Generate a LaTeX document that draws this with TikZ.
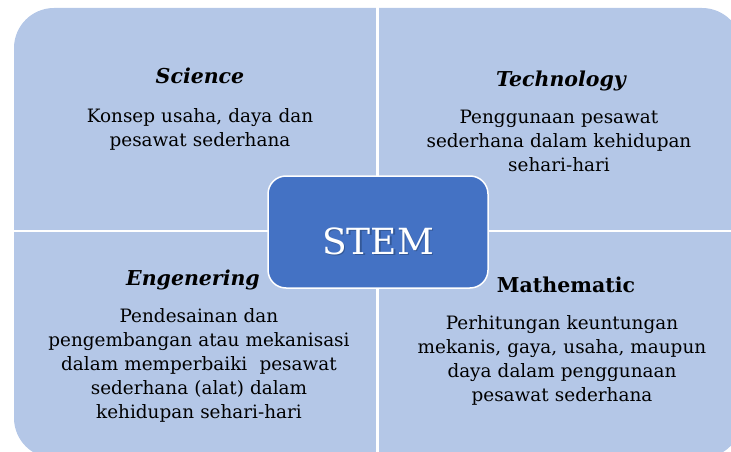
\documentclass[tikz,border=0pt]{standalone}
\usepackage{fontspec}
\setmainfont{DejaVu Serif}
\definecolor{quadblue}{HTML}{B4C7E7}
\definecolor{stemblue}{HTML}{4472C4}

\begin{document}
\begin{tikzpicture}[x=1pt,y=-1pt,
  head/.style={anchor=base,inner sep=0,font=\fontsize{20.5}{24}\selectfont\bfseries\itshape},
  body/.style={anchor=base,inner sep=0,text width=340pt,align=center,font=\fontsize{18.4}{24.2}\selectfont},
  stembox/.style={draw=white,line width=1.5pt,fill=stemblue,rounded corners=18pt,
    minimum width=220pt,minimum height=112pt,inner sep=0}]

  \useasboundingbox (0,0) rectangle (731,452);
  \clip (0,0) rectangle (731,452);

  % the four quarters, split by thin white gaps
  \fill [quadblue,rounded corners=40pt] (14,8) rectangle (742,458);
  \draw [white,line width=2.4pt] (377.5,0) -- (377.5,460);
  \draw [white,line width=2.4pt] (10,231) -- (745,231);

  \node [head] (scihead) at (200,84) {Science};
  \node [body] (scitext) at (200,122) {Konsep usaha, daya dan\\pesawat sederhana};

  \node [head] (techhead) at (561,86) {Technology};
  \node [body] (techtext) at (559,123) {Penggunaan pesawat\\sederhana dalam kehidupan\\sehari-hari};

  \node [head] (enghead) at (193,285) {Engenering};
  \node [body] (engtext) at (199,322) {Pendesainan dan\\pengembangan atau mekanisasi\\dalam memperbaiki~ pesawat\\sederhana (alat) dalam\\kehidupan sehari-hari};

  \node [head,font=\fontsize{20.5}{24}\selectfont\bfseries] (mathhead) at (566,292) {Mathematic};
  \node [body] (mathtext) at (562,329) {Perhitungan keuntungan\\mekanis, gaya, usaha, maupun\\daya dalam penggunaan\\pesawat sederhana};

  % centre box with shadowed label
  \node [stembox] (stem) at (378,232) {};
  \node [anchor=base,inner sep=0,font=\fontsize{36}{40}\selectfont,text=stemblue!55!black,opacity=.5] (stemshadow) at (379.5,255.5) {STEM};
  \node [anchor=base,inner sep=0,font=\fontsize{36}{40}\selectfont,text=white] (stemlabel) at (378,254) {STEM};

\end{tikzpicture}
\end{document}
